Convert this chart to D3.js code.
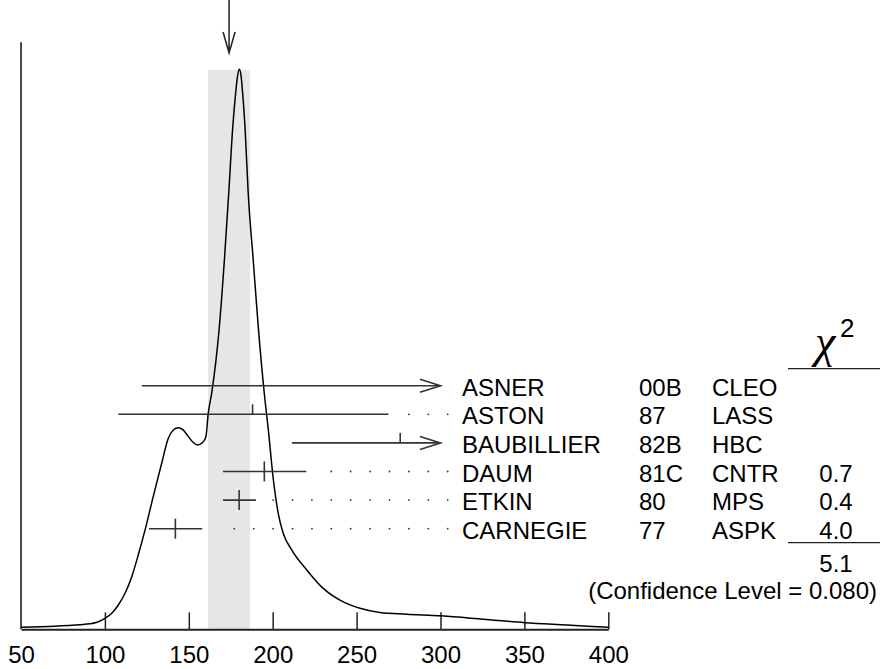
<!DOCTYPE html>
<html>
<head>
<meta charset="utf-8">
<script src="https://cdn.jsdelivr.net/npm/d3@7"></script>
<style>
  body { margin: 0; background: #fff; }
  svg { display: block; font-family: "Liberation Sans", Arial, Helvetica, sans-serif; }
</style>
</head>
<body>
<svg id="chart" width="880" height="669"></svg>
<script>
// measurements
const names = ["ASNER", "ASTON", "BAUBILLIER", "DAUM", "ETKIN", "CARNEGIE"];
const docIds = ["00B", "87", "82B", "81C", "80", "77"];
const techs = ["CLEO", "LASS", "HBC", "CNTR", "MPS", "ASPK"];
const centers = [null, 188, 276, 195, 180, 142];
const lows = [122, 108, 211.5, 170.4, 170.4, 126.3];
const highs = [340, 269, 341, 220, 190, 158];
const used = [false, false, false, true, true, true];
const chi2 = ["", "", "", "0.7", "0.4", "4.0"];
const chi2Total = "5.1";
const confLevel = "0.080";

// weighted average and its error (shaded band)
const average = 174;
const averageErr = 12.5;

// ideogram curve (mass, relative height)
const curveX = [50, 70, 88.1, 96.1, 100.1, 104.1, 108, 112, 116, 119.9, 123.9, 128.8, 133.8, 137.8,
  140.8, 143.7, 146.6, 149.5, 152.5, 155.3, 158, 160.2, 161.6, 163.6, 168.2, 171.2, 173.8, 176.2,
  177.9, 179, 180.1, 181.2, 182.1, 183.5, 185.4, 188.4, 191.4, 195, 197.4, 200.4, 203.3, 206.3,
  211.3, 220.3, 230.1, 240.1, 252, 263.9, 279.8, 300.5, 325.5, 350.3, 375.2, 400];
const curveY = [0.0036, 0.0056, 0.0089, 0.0136, 0.0196, 0.0286, 0.0434, 0.0643, 0.094, 0.133, 0.177,
  0.237, 0.296, 0.341, 0.356, 0.36, 0.356, 0.345, 0.334, 0.329, 0.333, 0.344, 0.386, 0.421, 0.54,
  0.659, 0.779, 0.897, 0.957, 0.987, 1.0, 0.987, 0.957, 0.897, 0.779, 0.659, 0.54, 0.421, 0.356,
  0.267, 0.207, 0.171, 0.142, 0.106, 0.073, 0.052, 0.0375, 0.030, 0.027, 0.024, 0.018, 0.0118,
  0.0077, 0.0036];

const xTicks = [50, 100, 150, 200, 250, 300, 350, 400];
const arrowLimit = 300;

const svg = d3.select("#chart");

const x = d3.scaleLinear().domain([50, 400]).range([21, 608.3]);
const y = d3.scaleLinear().domain([0, 1]).range([629.3, 69.3]);
const row = d3.scalePoint().domain(names).range([385.7, 528.7]);

// shaded band
svg.append("rect")
  .attr("x", x(average - averageErr))
  .attr("y", 70)
  .attr("width", x(average + averageErr) - x(average - averageErr))
  .attr("height", y(0) - 70)
  .attr("fill", "#e6e6e6");

// arrow pointing at the average
const ax = x(average);
svg.append("path")
  .attr("d", `M${ax},0V53M${ax - 6},32L${ax},53L${ax + 6},32`)
  .attr("fill", "none").attr("stroke", "#222").attr("stroke-width", 1.5);

// axes
svg.append("line")
  .attr("x1", x(50)).attr("x2", x(50))
  .attr("y1", 42.3).attr("y2", y(0))
  .attr("stroke", "#111").attr("stroke-width", 1.5);

const xAxis = d3.axisBottom(x)
  .tickValues(xTicks)
  .tickFormat(d3.format("d"))
  .tickSizeInner(-17)
  .tickSizeOuter(0)
  .tickPadding(16.7);

const gx = svg.append("g")
  .attr("transform", `translate(0,${y(0)})`)
  .call(xAxis);
gx.select(".domain").attr("stroke", "#222").attr("stroke-width", 2);
gx.selectAll(".tick line").attr("stroke", "#222").attr("stroke-width", 1.5);
gx.selectAll(".tick").filter(d => d === 50).select("line").remove();
gx.selectAll(".tick text")
  .attr("fill", "#000")
  .style("font-size", "24px")
  .style("font-family", "'Liberation Sans', Arial, sans-serif");

// ideogram curve
const line = d3.line()
  .x(d => x(d[0]))
  .y(d => y(d[1]))
  .curve(d3.curveMonotoneX);
svg.append("path")
  .datum(d3.zip(curveX, curveY))
  .attr("d", line)
  .attr("fill", "none")
  .attr("stroke", "#000")
  .attr("stroke-width", 1.5);

// measurements
const textX = 462;
const dotStart = 234.3, dotStep = 19.4, dotEnd = 448;
const xMax = x(arrowLimit);

names.forEach((name, i) => {
  const ry = row(name);
  const g = svg.append("g");
  const x0 = x(lows[i]);
  const clipped = highs[i] > arrowLimit;
  const x1 = clipped ? xMax : x(highs[i]);

  g.append("line")
    .attr("x1", x0).attr("x2", x1)
    .attr("y1", ry).attr("y2", ry)
    .attr("stroke", "#333").attr("stroke-width", 1.6);

  if (clipped) {
    g.append("path")
      .attr("d", `M${x1 - 20.5},${ry - 6.5}L${x1},${ry}L${x1 - 20.5},${ry + 6.5}`)
      .attr("fill", "none").attr("stroke", "#333").attr("stroke-width", 1.6);
  }

  if (centers[i] !== null) {
    const cx = x(centers[i]);
    g.append("line")
      .attr("x1", cx).attr("x2", cx)
      .attr("y1", ry - 10).attr("y2", used[i] ? ry + 10 : ry)
      .attr("stroke", "#333").attr("stroke-width", 1.6);
  }

  // dotted leader to the label
  if (!clipped) {
    const dots = d3.range(dotStart, dotEnd, dotStep).filter(d => d > x1 + 15);
    g.selectAll("circle")
      .data(dots)
      .enter()
      .append("circle")
      .attr("cx", d => d)
      .attr("cy", ry)
      .attr("r", 0.9)
      .attr("fill", "#333");
  }

  const t = svg.append("g")
    .attr("transform", `translate(0,${ry + 10})`)
    .style("font-size", "24px");
  t.append("text").attr("x", textX).text(name);
  t.append("text").attr("x", 639).text(docIds[i]);
  t.append("text").attr("x", 712).text(techs[i]);
  t.append("text").attr("x", 836).attr("text-anchor", "middle").text(chi2[i]);
});

// chi-square column
svg.append("text")
  .attr("x", 815)
  .attr("y", 357)
  .style("font-family", "'Liberation Serif', 'Times New Roman', serif")
  .style("font-style", "italic")
  .style("font-size", "46px")
  .text("χ");
svg.append("text")
  .attr("x", 840)
  .attr("y", 336.7)
  .style("font-size", "26px")
  .text("2");

svg.append("line")
  .attr("x1", 788).attr("x2", 880)
  .attr("y1", 368.7).attr("y2", 368.7)
  .attr("stroke", "#222").attr("stroke-width", 1.3);
svg.append("line")
  .attr("x1", 788).attr("x2", 880)
  .attr("y1", 542.7).attr("y2", 542.7)
  .attr("stroke", "#222").attr("stroke-width", 1.3);

svg.append("text")
  .attr("x", 836).attr("y", 571.5)
  .attr("text-anchor", "middle")
  .style("font-size", "24px")
  .text(chi2Total);
svg.append("text")
  .attr("x", 877).attr("y", 599)
  .attr("text-anchor", "end")
  .style("font-size", "24px")
  .text(`(Confidence Level = ${confLevel})`);
</script>
</body>
</html>
